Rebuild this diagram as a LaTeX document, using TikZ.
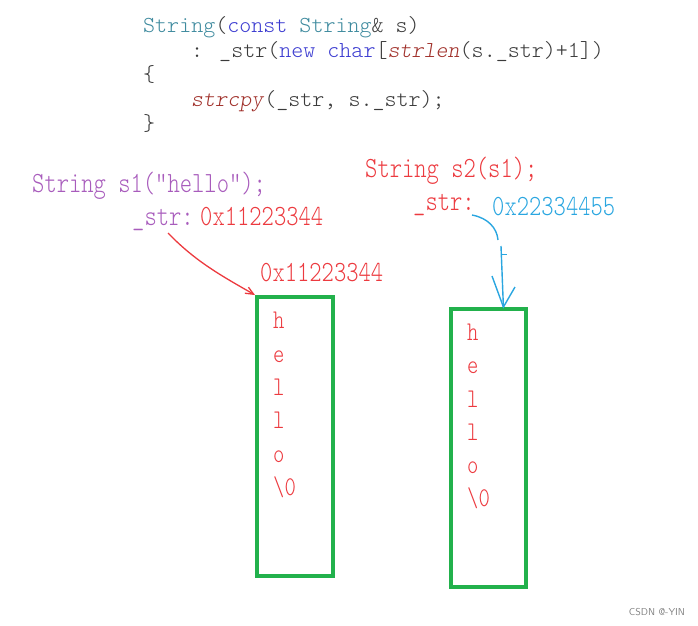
\documentclass[tikz,border=0pt]{standalone}
\usepackage{fontspec}
\usetikzlibrary{arrows.meta,calc}
\newfontfamily\handfont[FakeStretch=0.8]{lmmonolt10-regular.otf}
\newfontfamily\codefont[ItalicFont=lmmonolt10-oblique.otf]{lmmonolt10-regular.otf}
\definecolor{cteal}{HTML}{3E8A9E}
\definecolor{cblue}{HTML}{3B3BD0}
\definecolor{cred}{HTML}{A0302A}
\definecolor{cdark}{HTML}{3A3A3A}
\definecolor{hpurple}{HTML}{A85CBC}
\definecolor{hred}{HTML}{EC3A3F}
\definecolor{hblue}{HTML}{2AA6E0}
\definecolor{hgreen}{HTML}{22B14C}
\tikzset{
  code/.style={anchor=base west, inner sep=0pt, text=cdark, font=\fontsize{22.9}{24}\selectfont\codefont},
  hand/.style={anchor=base west, inner sep=0pt, font=\fontsize{29.3}{30}\selectfont\handfont},
  cell/.style={anchor=base west, inner sep=0pt, text=hred, font=\fontsize{27}{27}\selectfont\handfont},
  membox/.style={draw=hgreen, line width=3.5pt, anchor=north west, inner sep=0pt},
  redarrow/.style={draw=hred, line width=1.3pt, -{Straight Barb[length=8pt,width=7pt]}},
  bluepen/.style={draw=hblue, line width=1.4pt},
}
\begin{document}
\begin{tikzpicture}[x=1pt,y=-1pt]
\useasboundingbox (0,0) rectangle (698,625);
% code
\node[code] (c1) at (143,32) {\color{cteal}String\color{cdark}(\color{cblue}const \color{cteal}String\color{cdark}\& s)};
\node[code] (c2) at (191,57) {: \_str(\color{cblue}new char\color{cdark}[\color{cred}\textit{strlen}\color{cdark}(s.\_str)+1])};
\node[code] (c3) at (143,81) {\{};
\node[code] (c4) at (191,106) {\color{cred}\textit{strcpy}\color{cdark}(\_str, s.\_str);};
\node[code] (c5) at (143,130) {\}};
% labels
\node[hand, text=hpurple] (s1) at (32,192) {String s1(”hello”);};
\node[hand, text=hpurple] (s1str) at (132,225) {\_str:};
\node[hand, text=hred] (s1addr) at (200,225) {0x11223344};
\node[hand, text=hred] (b1addr) at (260,281) {0x11223344};
\node[hand, text=hred] (s2) at (365,177) {String s2(s1);};
\node[hand, text=hred] (s2str) at (413,210) {\_str:};
\node[hand, text=hblue] (s2addr) at (492,215) {0x22334455};
% boxes
\node[membox, minimum width=76pt, minimum height=279pt] (box1) at (255,295) {};
\node[membox, minimum width=75pt, minimum height=278pt] (box2) at (449,307) {};
% contents
\node[cell] (h1) at (273,328) {h};
\node[cell] (e1) at (273,362) {e};
\node[cell] (l1) at (273,395) {l};
\node[cell] (m1) at (273,428) {l};
\node[cell] (o1) at (273,462) {o};
\node[cell] (z1) at (273,495) {\textbackslash 0};
\node[cell] (h2) at (467,340) {h};
\node[cell] (e2) at (467,373) {e};
\node[cell] (l2) at (467,407) {l};
\node[cell] (m2) at (467,440) {l};
\node[cell] (o2) at (467,473) {o};
\node[cell] (z2) at (467,506) {\textbackslash 0};
% arrows
\coordinate (r0) at (168,233);
\draw[redarrow] (r0) .. controls (196,262) and (222,276) .. (box1.north west);
\coordinate (q0) at (472,215);
\coordinate (q1) at (498,240);
\coordinate (q2) at (501,246);
\coordinate (q3) at ($(box2.north west)!0.693!(box2.north east)$);
\draw[bluepen] (q0) .. controls (488,218) and (497,228) .. (q1);
\draw[bluepen] (q2) -- (q3);
\draw[bluepen] (492,276) -- (q3) -- (515,287);
\draw[bluepen, line width=1pt] (501,254) -- (507,254);
% watermark
\node[anchor=base, inner sep=0pt, text=gray, font=\fontsize{10}{11}\selectfont\sffamily] (wm) at (657,615) {CSDN @-YIN};
\end{tikzpicture}
\end{document}
